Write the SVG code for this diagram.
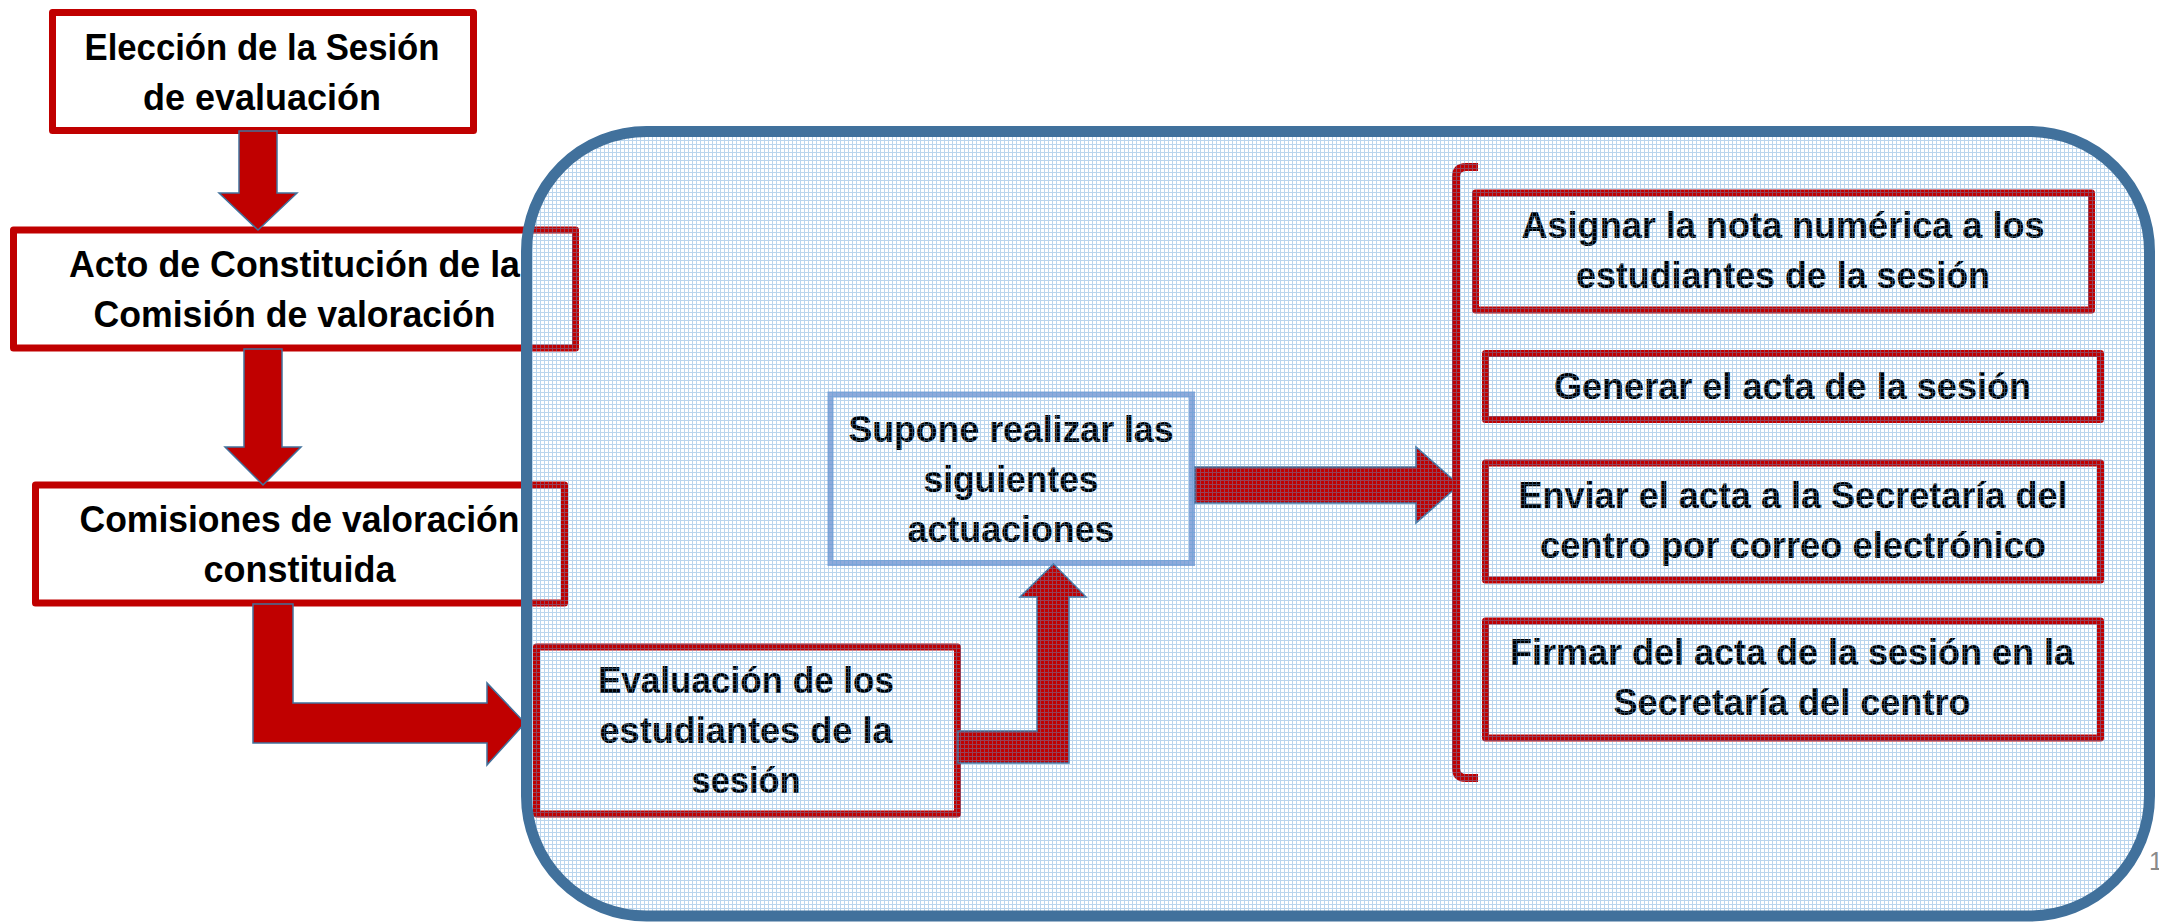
<svg xmlns="http://www.w3.org/2000/svg" width="2159" height="923" viewBox="0 0 2159 923">
<defs>
<pattern id="grid" patternUnits="userSpaceOnUse" x="0" y="0" width="4" height="4">
<rect x="0" y="0" width="4" height="1" fill="#5b9bd5" fill-opacity="0.42"/>
<rect x="0" y="1" width="1" height="3" fill="#5b9bd5" fill-opacity="0.42"/>
</pattern>
<style>
.box{fill:#ffffff;stroke:#c00000;stroke-width:7;stroke-linejoin:round}
.ibox{fill:none;stroke:#c00000;stroke-width:7;stroke-linejoin:round}
.sbox{fill:none;stroke:#8eaadb;stroke-width:6}
.lbl{font-family:"Liberation Sans",Arial,sans-serif;font-weight:bold;font-size:36.5px;fill:#000000;text-anchor:middle}
.arr{fill:#c00000;stroke:#41719c;stroke-width:1.5;stroke-linejoin:miter}
.brk{fill:none;stroke:#c00000;stroke-width:8}
</style>
</defs>
<rect x="0" y="0" width="2159" height="923" fill="#ffffff"/>

<g id="node-eleccion">
<rect class="box" x="52.5" y="12.5" width="421" height="118"/>
<text class="lbl" x="262" y="60" textLength="355" lengthAdjust="spacingAndGlyphs">Elección de la Sesión</text>
<text class="lbl" x="262" y="110" textLength="238" lengthAdjust="spacingAndGlyphs">de evaluación</text>
</g>
<g id="node-acto">
<rect class="box" x="13.5" y="230" width="562" height="118"/>
<text class="lbl" x="294.5" y="277" textLength="451" lengthAdjust="spacingAndGlyphs">Acto de Constitución de la</text>
<text class="lbl" x="294.5" y="327" textLength="402" lengthAdjust="spacingAndGlyphs">Comisión de valoración</text>
</g>
<g id="node-comisiones">
<rect class="box" x="35.5" y="485" width="529" height="118"/>
<text class="lbl" x="299.5" y="532" textLength="440" lengthAdjust="spacingAndGlyphs">Comisiones de valoración</text>
<text class="lbl" x="299.5" y="582" textLength="192" lengthAdjust="spacingAndGlyphs">constituida</text>
</g>

<g id="node-evaluacion">
<rect class="ibox" x="536.5" y="647" width="421" height="167"/>
<text class="lbl" x="746" y="693" textLength="296" lengthAdjust="spacingAndGlyphs">Evaluación de los</text>
<text class="lbl" x="746" y="743" textLength="293" lengthAdjust="spacingAndGlyphs">estudiantes de la</text>
<text class="lbl" x="746" y="793" textLength="109" lengthAdjust="spacingAndGlyphs">sesión</text>
</g>
<g id="node-supone">
<rect class="sbox" x="830.5" y="394.5" width="361.5" height="168.5"/>
<text class="lbl" x="1011" y="442" textLength="325" lengthAdjust="spacingAndGlyphs">Supone realizar las</text>
<text class="lbl" x="1011" y="492" textLength="175" lengthAdjust="spacingAndGlyphs">siguientes</text>
<text class="lbl" x="1011" y="542" textLength="207" lengthAdjust="spacingAndGlyphs">actuaciones</text>
</g>
<g id="node-asignar">
<rect class="ibox" x="1475.5" y="193" width="616" height="117"/>
<text class="lbl" x="1783" y="238" textLength="523" lengthAdjust="spacingAndGlyphs">Asignar la nota numérica a los</text>
<text class="lbl" x="1783" y="288" textLength="414" lengthAdjust="spacingAndGlyphs">estudiantes de la sesión</text>
</g>
<g id="node-generar">
<rect class="ibox" x="1485.5" y="353.5" width="615" height="66"/>
<text class="lbl" x="1792.5" y="399" textLength="477" lengthAdjust="spacingAndGlyphs">Generar el acta de la sesión</text>
</g>
<g id="node-enviar">
<rect class="ibox" x="1485.5" y="463" width="615" height="117"/>
<text class="lbl" x="1793" y="508" textLength="549" lengthAdjust="spacingAndGlyphs">Enviar el acta a la Secretaría del</text>
<text class="lbl" x="1793" y="558" textLength="506" lengthAdjust="spacingAndGlyphs">centro por correo electrónico</text>
</g>
<g id="node-firmar">
<rect class="ibox" x="1485.5" y="621" width="615" height="117"/>
<text class="lbl" x="1792" y="665" textLength="564" lengthAdjust="spacingAndGlyphs">Firmar del acta de la sesión en la</text>
<text class="lbl" x="1792" y="715" textLength="357" lengthAdjust="spacingAndGlyphs">Secretaría del centro</text>
</g>

<g id="connectors">
<polygon class="arr" points="239,131 277,131 277,193 297,193 258,230 219,193 239,193"/>
<polygon class="arr" points="244,349 282,349 282,447 301,447 263,485 225,447 244,447"/>
<polygon class="arr" points="253,604 293,604 293,703 487,703 487,683 525,723 487,765 487,743 253,743"/>
<polygon class="arr" points="958,731 1037,731 1037,597 1020,597 1053.5,564 1086,597 1069,597 1069,763 958,763"/>
<polygon class="arr" points="1195,467 1416,467 1416,447 1459,485 1416,523 1416,503 1195,503"/>
<path class="brk" d="M1478,167 H1466 Q1456,167 1456,177 V768 Q1456,778 1466,778 H1478"/>
</g>

<g id="container">
<rect x="526.5" y="131.5" width="1623" height="784.5" rx="120" ry="120" fill="url(#grid)"/>
<rect x="526.5" y="131.5" width="1623" height="784.5" rx="120" ry="120" fill="none" stroke="#41719c" stroke-width="11"/>
</g>

<text x="2149" y="870" font-family="Liberation Sans, Arial, sans-serif" font-size="25" fill="#8a8a8a">1</text>
</svg>
